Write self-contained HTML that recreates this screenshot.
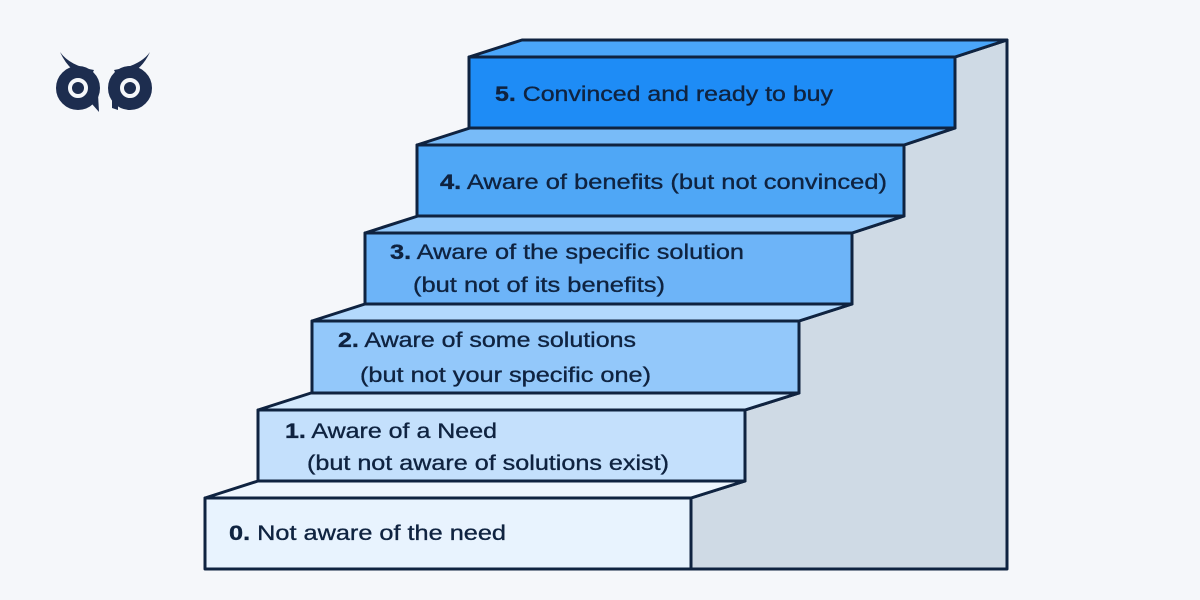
<!DOCTYPE html>
<html><head><style>
html,body{margin:0;padding:0;background:#f5f7fa;}
svg{display:block;}
text{font-family:"Liberation Sans",sans-serif;font-size:21px;fill:#0f2340;stroke:#0f2340;stroke-width:0.35;}
</style></head><body>
<svg width="1200" height="600" viewBox="0 0 1200 600" xmlns="http://www.w3.org/2000/svg">
<rect width="1200" height="600" fill="#f5f7fa"/>
<!-- logo -->
<g fill="#1d2d4f">
  <circle cx="78" cy="88" r="16" fill="none" stroke="#1d2d4f" stroke-width="12"/>
  <circle cx="78" cy="88" r="6"/>
  <circle cx="130" cy="88" r="16" fill="none" stroke="#1d2d4f" stroke-width="12"/>
  <circle cx="130" cy="88" r="6"/>
  <path d="M60 52 Q70 66 94 70 L90 78 Q70 74 60 52Z"/>
  <path d="M150 52 Q140 66 114 70 L118 78 Q140 74 150 52Z"/>
  <path d="M92 94 L98 94 L99 112 L92 104Z"/>
  <path d="M112 88 L118 88 L118 110 L112 108Z"/>
</g>
<!-- side wall -->
<polygon points="691,569 691,498 745,481 745,410 799,393 799,321 852,304 852,233 904,216 904,145 955,128 955,57 1007,40 1007,569" fill="#cfdae5" stroke="#0f2340" stroke-width="3" stroke-linejoin="round"/>
<g stroke="#0f2340" stroke-width="3" stroke-linejoin="round">
  <polygon points="469,57 522,40 1007,40 955,57" fill="#4aa6fa"/>
  <rect x="469" y="57" width="486" height="71" fill="#1e8cf6"/>
  <polygon points="417,145 470,128 955,128 904,145" fill="#78bbf8"/>
  <rect x="417" y="145" width="487" height="71" fill="#4fa7f6"/>
  <polygon points="365,233 418,216 904,216 852,233" fill="#94c9fa"/>
  <rect x="365" y="233" width="487" height="71" fill="#6db4f8"/>
  <polygon points="312,321 365,304 852,304 799,321" fill="#b3d9fc"/>
  <rect x="312" y="321" width="487" height="72" fill="#93c8fa"/>
  <polygon points="258,410 311,393 799,393 745,410" fill="#d3e9fd"/>
  <rect x="258" y="410" width="487" height="71" fill="#c4e0fc"/>
  <polygon points="205,498 258,481 745,481 691,498" fill="#eef6fe"/>
  <rect x="205" y="498" width="486" height="71" fill="#e8f3fe"/>
</g>
<text x="495" y="101" textLength="338" lengthAdjust="spacingAndGlyphs"><tspan font-weight="bold">5.</tspan> Convinced and ready to buy</text>
<text x="440" y="189" textLength="447" lengthAdjust="spacingAndGlyphs"><tspan font-weight="bold">4.</tspan> Aware of benefits (but not convinced)</text>
<text x="390" y="259" textLength="354" lengthAdjust="spacingAndGlyphs"><tspan font-weight="bold">3.</tspan> Aware of the specific solution</text>
<text x="413" y="292" textLength="252" lengthAdjust="spacingAndGlyphs">(but not of its benefits)</text>
<text x="338" y="347" textLength="298" lengthAdjust="spacingAndGlyphs"><tspan font-weight="bold">2.</tspan> Aware of some solutions</text>
<text x="360" y="382" textLength="291" lengthAdjust="spacingAndGlyphs">(but not your specific one)</text>
<text x="285" y="438" textLength="212" lengthAdjust="spacingAndGlyphs"><tspan font-weight="bold">1.</tspan> Aware of a Need</text>
<text x="307" y="470" textLength="362" lengthAdjust="spacingAndGlyphs">(but not aware of solutions exist)</text>
<text x="229" y="540" textLength="277" lengthAdjust="spacingAndGlyphs"><tspan font-weight="bold">0.</tspan> Not aware of the need</text>
</svg>
</body></html>
